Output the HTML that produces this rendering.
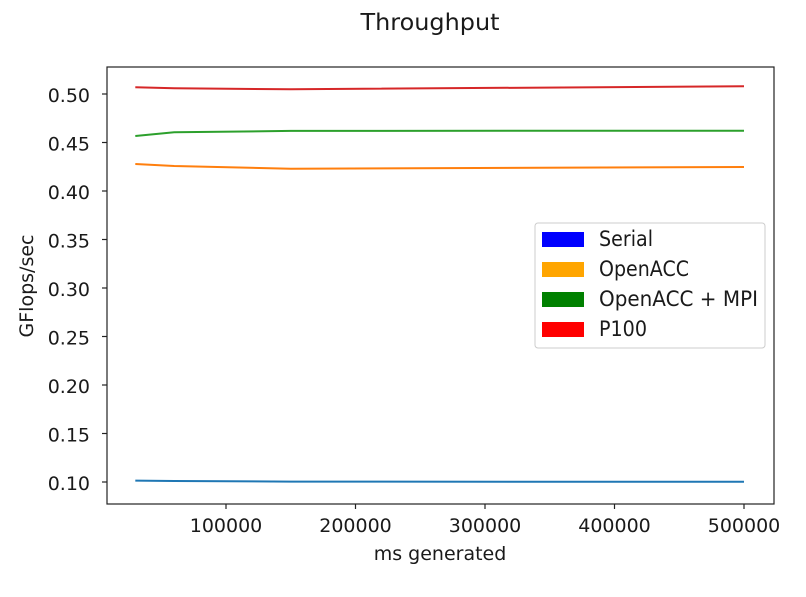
<!DOCTYPE html>
<html><head><meta charset="utf-8"><style>
body{margin:0;background:#fff;}
svg text{font-family:"DejaVu Sans","Liberation Sans",sans-serif;fill:#1a1a1a;}
</style></head><body>
<svg id="chart" width="806" height="592"></svg>
<script>
const xs = [30000, 60000, 150000, 500000];
const serial = [0.1014, 0.1010, 0.1004, 0.1002];
const openacc = [0.4278, 0.4258, 0.4230, 0.4247];
const openaccMpi = [0.4567, 0.4605, 0.4620, 0.4622];
const p100 = [0.5069, 0.5060, 0.5048, 0.5080];
const xTicks = [100000, 200000, 300000, 400000, 500000];
const yTicks = [0.10, 0.15, 0.20, 0.25, 0.30, 0.35, 0.40, 0.45, 0.50];
const seriesNames = ["Serial", "OpenACC", "OpenACC + MPI", "P100"];
const lineColors = ["#1f77b4", "#ff7f0e", "#2ca02c", "#d62728"];
const legendColors = ["#0000ff", "#ffa500", "#008000", "#ff0000"];

const NS = "http://www.w3.org/2000/svg";
const svg = document.getElementById("chart");
const L = 107, R = 774, T = 67, B = 504;
function xs2px(v){ return 226 + (v - 100000) * 518 / 400000; }
function ys2px(v){ return 482 - (v - 0.10) * 970; }
function mk(tag, attrs){ const e = document.createElementNS(NS, tag); for (const k in attrs) e.setAttribute(k, attrs[k]); svg.appendChild(e); return e; }

let t = mk("text", {x: 430, y: 30, "font-size": 23, "text-anchor": "middle", textLength: 139, lengthAdjust: "spacingAndGlyphs"});
t.textContent = "Throughput";



const series = [serial, openacc, openaccMpi, p100];
series.forEach((s, i) => {
  const d = s.map((v, j) => (j ? "L" : "M") + xs2px(xs[j]).toFixed(1) + " " + ys2px(v).toFixed(1)).join(" ");
  const p = mk("path", {d: d, fill: "none", stroke: lineColors[i], "stroke-width": 2});
  
  
});

const frame = mk("rect", {x: L, y: T, width: R - L, height: B - T, fill: "none", stroke: "#222", "stroke-width": 1.2});



xTicks.forEach(v => {
  const x = xs2px(v);
  mk("line", {x1: x, x2: x, y1: B, y2: B + 5, stroke: "#222", "stroke-width": 1.2});
  const tx = mk("text", {x: x, y: 532, "font-size": 19, "text-anchor": "middle"});
  tx.textContent = v;
  
  
});
yTicks.forEach(v => {
  const y = ys2px(v);
  mk("line", {x1: L - 5, x2: L, y1: y, y2: y, stroke: "#222", "stroke-width": 1.2});
  const ty = mk("text", {x: 90, y: y + 8, "font-size": 19, "text-anchor": "end"});
  ty.textContent = v.toFixed(2);
  
  
});

const xl = mk("text", {x: 440, y: 560, "font-size": 19, "text-anchor": "middle"});
xl.textContent = "ms generated";


const yl = mk("text", {x: 0, y: 0, "font-size": 19, "text-anchor": "middle", transform: "translate(33,286) rotate(-90)"});
yl.textContent = "GFlops/sec";



const lg = mk("rect", {x: 535, y: 223, width: 230, height: 125, rx: 3, fill: "#fff", stroke: "#ccc"});


const lens = [54, 90, 159, 48];
seriesNames.forEach((n, i) => {
  const y = 240 + i * 30;
  const sw = mk("rect", {x: 542, y: y - 8, width: 42, height: 15, fill: legendColors[i]});
  
  
  const lt = mk("text", {x: 599, y: y + 6, "font-size": 21, textLength: lens[i], lengthAdjust: "spacingAndGlyphs"});
  lt.textContent = n;
  
  
});
</script>
</body></html>
